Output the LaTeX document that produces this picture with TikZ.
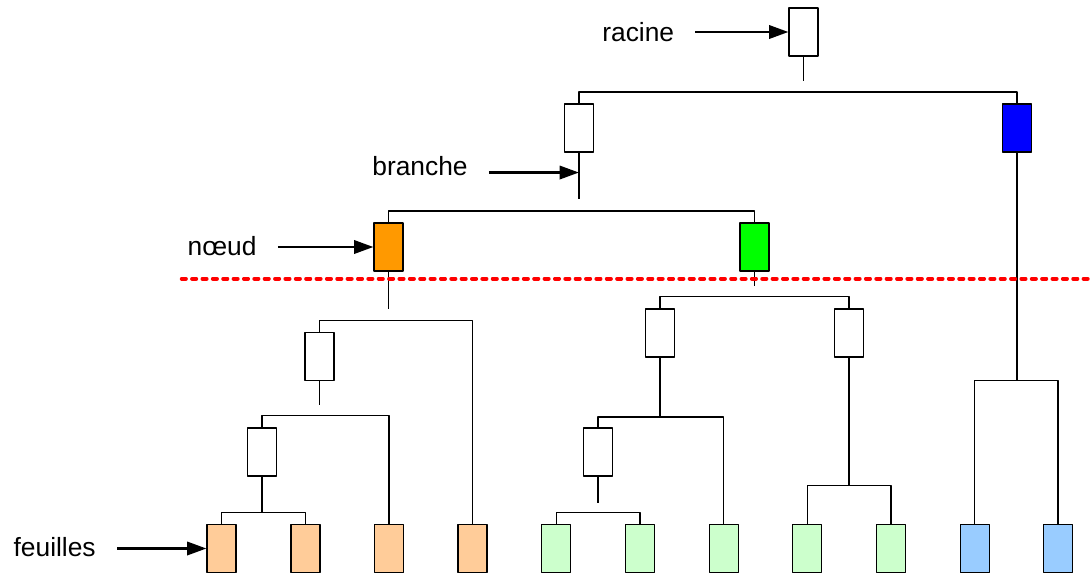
\documentclass[tikz,border=0pt]{standalone}
\usepackage{fontspec}
\setmainfont{Liberation Sans}
\usetikzlibrary{arrows.meta}
\definecolor{orangeN}{HTML}{FF9900}
\definecolor{orangeF}{HTML}{FFCC99}
\definecolor{vertN}{HTML}{00FF00}
\definecolor{vertF}{HTML}{CCFFCC}
\definecolor{bleuN}{HTML}{0000FF}
\definecolor{bleuF}{HTML}{99CCFF}
\begin{document}
\begin{tikzpicture}[x=.02cm, y=-.02cm, line join=round,
  boite/.style={draw, line width=.6pt, minimum width=.58cm, minimum height=.96cm, inner sep=0pt},
  lien/.style={line width=.6pt},
  fleche/.style={line width=1.6pt, -{Triangle[length=11pt,width=7.5pt]}, shorten <=.42cm},
  etiq/.style={font=\fontsize{15}{18}\selectfont, inner sep=0pt, anchor=base west}]
\useasboundingbox (0,0) rectangle (1092,575);
% noeuds internes
\node[boite] (R) at (803.5,32) {};
\node[boite] (A) at (579,128) {};
\node[boite,fill=bleuN] (B) at (1017,128) {};
\node[boite,fill=orangeN] (O) at (388.5,247) {};
\node[boite,fill=vertN] (G) at (754.5,247) {};
\node[boite] (C1) at (319.5,356.5) {};
\node[boite] (C2) at (262,452) {};
\node[boite] (W1) at (660,333) {};
\node[boite] (W2) at (849,333) {};
\node[boite] (W3) at (598,452) {};
% feuilles
\foreach \nom/\x/\c in {f1/221.5/orangeF, f2/305.5/orangeF, f3/389/orangeF, f4/472.5/orangeF,
  f5/556.3/vertF, f6/640/vertF, f7/723.7/vertF, f8/807.3/vertF, f9/891/vertF,
  f10/974.7/bleuF, f11/1058/bleuF}
  \node[boite,fill=\c] (\nom) at (\x,548.5) {};
% barres
\foreach \g/\d/\y in {A/B/92, O/G/211, C1/f4/320.7, C2/f3/415.7, f1/f2/512.7,
  W1/W2/296.7, W3/f7/417, f5/f6/512.7, f8/f9/485.3, f10/f11/380.3}
  \draw[lien] (\g.north) -- (\g.north |- 0,\y) -| (\d.north);
% tiges
\draw[lien] (R.south) -- ++(0,24);
\draw[lien] (A.south) -- ++(0,46);
\draw[lien] (O.south) -- ++(0,37);
\draw[lien] (G.south) -- ++(0,14);
\draw[lien] (C1.south) -- ++(0,24);
\draw[lien] (W3.south) -- ++(0,26);
\draw[lien] (B.south) -- (B.south |- 0,380.3);
\draw[lien] (C2.south) -- (C2.south |- 0,512.7);
\draw[lien] (W1.south) -- (W1.south |- 0,417);
\draw[lien] (W2.south) -- (W2.south |- 0,485.3);
% niveau
\draw[red, line width=2.2pt, line cap=round, dash pattern=on 2.4pt off 3.5pt] (181.7,278.7) -- (1092,278.7);
% etiquettes
\path (A.south) ++(0,20) coordinate (pA);
\node[etiq] (tR) at (602,41.7) {racine};
\node[etiq] (tA) at (372,175) {branche};
\node[etiq] (tO) at (187.3,255) {nœud};
\node[etiq] (tF) at (13.3,556) {feuilles};
\draw[fleche] (tR.east |- R.west) -- (R.west);
\draw[fleche] (tA.east |- pA) -- (pA);
\draw[fleche] (tO.east |- O.west) -- (O.west);
\draw[fleche] (tF.east |- f1.west) -- (f1.west);
\end{tikzpicture}
\end{document}
